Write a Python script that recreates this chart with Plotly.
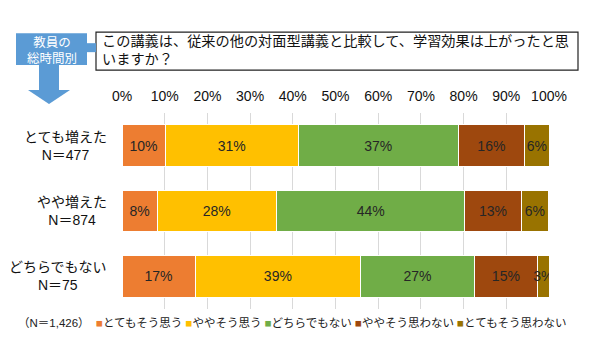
import plotly.graph_objects as go

categories = ["とても増えた", "やや増えた", "どちらでもない"]
category_n = ["N＝477", "N＝874", "N＝75"]
series_names = ["とてもそう思う", "ややそう思う", "どちらでもない", "ややそう思わない", "とてもそう思わない"]
series_colors = ["#ED7D31", "#FFC000", "#70AD47", "#9E480E", "#997300"]

v_totemo_sou = [10.1, 8.2, 17.1]
v_yaya_sou = [31.2, 28.0, 38.8]
v_dochira = [37.4, 44.1, 26.6]
v_yaya_omowanai = [15.6, 13.2, 14.8]
v_totemo_omowanai = [5.7, 6.4, 2.7]
series_values = [v_totemo_sou, v_yaya_sou, v_dochira, v_yaya_omowanai, v_totemo_omowanai]

tick_vals = [0, 10, 20, 30, 40, 50, 60, 70, 80, 90, 100]
tick_text = [f"{t}%" for t in tick_vals]

question = "この講義は、従来の他の対面型講義と比較して、学習効果は上がったと思<br>いますか？"
group_label = "教員の<br>総時間別"
total_note = "（N＝1,426）"

FONT = "Liberation Sans, Noto Sans CJK JP, sans-serif"
W, H = 590, 344
ML, MR, MT, MB = 122, 41, 113, 34.5
PW, PH = W - ML - MR, H - MT - MB


def px(x):
    return (x - ML) / PW


def py(y):
    return (H - MB - y) / PH


fig = go.Figure()
for name, color, vals in zip(series_names, series_colors, series_values):
    fig.add_trace(go.Bar(
        y=categories, x=vals, name=name, orientation="h",
        marker=dict(color=color, line=dict(color="white", width=1)),
        texttemplate="%{x:.0f}%", textposition="inside", textangle=0,
        insidetextanchor="middle", constraintext="none",
        textfont=dict(family=FONT, size=14, color="#262626"),
        showlegend=False,
    ))

shapes = []
# question box
shapes.append(dict(type="rect", xref="paper", yref="paper",
                   x0=px(96), x1=px(578), y0=py(32), y1=py(70),
                   line=dict(color="#222222", width=1.2), fillcolor="white", layer="above"))
# blue label box
shapes.append(dict(type="rect", xref="paper", yref="paper",
                   x0=px(16), x1=px(87), y0=py(33), y1=py(65),
                   line=dict(width=0), fillcolor="#5B9BD5", layer="above"))
# small connector
shapes.append(dict(type="path", xref="paper", yref="paper",
                   path=f"M {px(87)} {py(43)} L {px(96)} {py(43)} L {px(96)} {py(52)} L {px(87)} {py(52)} Z",
                   line=dict(width=0), fillcolor="#5B9BD5", layer="above"))
# down arrow
arrow = (f"M {px(39)} {py(65)} L {px(59)} {py(65)} L {px(59)} {py(90)} L {px(70)} {py(90)} "
         f"L {px(49)} {py(104)} L {px(28)} {py(90)} L {px(39)} {py(90)} Z")
shapes.append(dict(type="path", xref="paper", yref="paper", path=arrow,
                   line=dict(width=0), fillcolor="#5B9BD5", layer="above"))

legend_parts = [total_note + "&nbsp;&nbsp;"]
for name, color in zip(series_names, series_colors):
    legend_parts.append(f"<span style='color:{color}'>■</span>{name}&nbsp;")
legend_text = "".join(legend_parts)

annotations = [
    dict(xref="paper", yref="paper", x=px(100), y=py(50), text=question,
         showarrow=False, xanchor="left", yanchor="middle", align="left",
         font=dict(family=FONT, size=14.2, color="#111111")),
    dict(xref="paper", yref="paper", x=px(51.5), y=py(50), text=group_label,
         showarrow=False, xanchor="center", yanchor="middle", align="center",
         font=dict(family=FONT, size=12.5, color="white")),
    dict(xref="paper", yref="paper", x=px(16), y=py(324), text=legend_text,
         showarrow=False, xanchor="left", yanchor="middle", align="left",
         font=dict(family=FONT, size=11.5, color="#222222")),
]
for cat, n in zip(categories, category_n):
    annotations.append(dict(xref="paper", yref="y", x=px(109), y=cat,
                            text=f"{cat}<br>{n}", showarrow=False,
                            xanchor="right", yanchor="middle", align="center",
                            font=dict(family=FONT, size=14, color="#111111")))

fig.update_layout(
    width=W, height=H, barmode="stack", bargap=0.36,
    margin=dict(l=ML, r=MR, t=MT, b=MB, pad=0),
    paper_bgcolor="white", plot_bgcolor="white",
    font=dict(family=FONT, color="#111111"),
    uniformtext=dict(minsize=14, mode="show"),
    shapes=shapes, annotations=annotations,
    xaxis=dict(range=[0, 100], side="top", tickvals=tick_vals, ticktext=tick_text,
               showgrid=True, gridcolor="#D9D9D9", gridwidth=1, zeroline=False,
               showline=False, ticks="", tickfont=dict(family=FONT, size=14, color="#111111"),
               ticklabelstandoff=8, fixedrange=True),
    yaxis=dict(autorange="reversed", showgrid=False, zeroline=False, showline=False,
               showticklabels=False, ticks="", fixedrange=True),
)

fig.write_html("out.html")
